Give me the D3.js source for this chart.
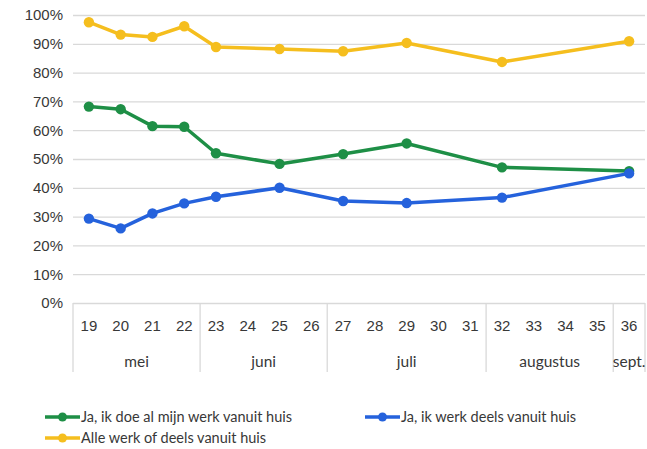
<!DOCTYPE html>
<html>
<head>
<meta charset="utf-8">
<script src="https://cdn.jsdelivr.net/npm/d3@7"></script>
<style>
  body { margin: 0; background: #fff; }
  svg { font-family: Lato, "Liberation Sans", sans-serif; }
</style>
</head>
<body>
<svg id="chart"></svg>
<script>
// week numbers on the axis
const weeks = ['19','20','21','22','23','24','25','26','27','28','29','30','31','32','33','34','35','36']
// weeks with a measurement
const surveyWeeks = ['19','20','21','22','23','25','27','29','32','36']
const allFromHome = [68.2, 67.3, 61.4, 61.2, 52.0, 48.3, 51.7, 55.4, 47.1, 45.8]
const partFromHome = [29.3, 25.9, 31.1, 34.6, 36.9, 40.0, 35.4, 34.7, 36.6, 45.0]
const allOrPart = [97.5, 93.2, 92.4, 96.1, 88.9, 88.2, 87.4, 90.3, 83.7, 90.9]
const months = ['mei', 'juni', 'juli', 'augustus', 'sept.']
const monthFirst = ['19', '23', '27', '32', '36']
const monthLast = ['22', '26', '31', '35', '36']
const yTicks = [0, 10, 20, 30, 40, 50, 60, 70, 80, 90, 100]

const series = [
  { name: 'Ja, ik doe al mijn werk vanuit huis', values: allFromHome, color: '#1e8f46' },
  { name: 'Ja, ik werk deels vanuit huis', values: partFromHome, color: '#2562dc' },
  { name: 'Alle werk of deels vanuit huis', values: allOrPart, color: '#f5be1e' }
]

const width = 647
const height = 449
const plotLeft = 73, plotRight = 645, plotTop = 15, plotBottom = 303

const svg = d3.select('#chart')
  .attr('width', width)
  .attr('height', height)

const xScale = d3.scaleBand()
  .domain(weeks)
  .range([plotLeft, plotRight])

const yScale = d3.scaleLinear()
  .domain([0, 100])
  .range([plotBottom, plotTop])

// gridlines + y labels
const yAxis = svg.append('g')
  .attr('transform', `translate(${plotLeft},0)`)
  .call(d3.axisLeft(yScale).tickValues(yTicks).tickSize(-(plotRight - plotLeft)).tickFormat(d => d + '%'))
yAxis.select('.domain').remove()
yAxis.selectAll('.tick line').attr('stroke', '#d9d9d9').attr('stroke-width', 1.3)
yAxis.selectAll('.tick text')
  .attr('x', -10)
  .attr('fill', '#383838')
  .style('font-size', '15px')

// week labels
const xAxis = svg.append('g')
  .attr('transform', `translate(0,${plotBottom})`)
  .call(d3.axisBottom(xScale).tickSize(0))
xAxis.select('.domain').remove()
xAxis.selectAll('.tick text')
  .attr('y', 17)
  .attr('fill', '#383838')
  .style('font-size', '15px')

// month separators and labels
const bw = xScale.bandwidth()
const sepX = [xScale(monthFirst[0])].concat(monthLast.map(w => xScale(w) + bw))
svg.append('g').selectAll('line')
  .data(sepX)
  .join('line')
  .attr('x1', d => d).attr('x2', d => d)
  .attr('y1', plotBottom).attr('y2', 372)
  .attr('stroke', '#d9d9d9')
  .attr('stroke-width', 1.3)

svg.append('g').selectAll('text')
  .data(months)
  .join('text')
  .attr('x', (d, i) => (xScale(monthFirst[i]) + xScale(monthLast[i]) + bw) / 2)
  .attr('y', 362)
  .attr('dy', '0.35em')
  .attr('text-anchor', 'middle')
  .attr('fill', '#383838')
  .style('font-size', '15.5px')
  .text(d => d)

// lines
const lineGen = d3.line()
  .x((d, i) => xScale(surveyWeeks[i]) + bw / 2)
  .y(d => yScale(d))

const order = [2, 0, 1]
order.forEach(k => {
  const s = series[k]
  const g = svg.append('g')
  g.append('path')
    .datum(s.values)
    .attr('d', lineGen)
    .attr('fill', 'none')
    .attr('stroke', s.color)
    .attr('stroke-width', 3.5)
    .attr('stroke-linejoin', 'round')
  g.selectAll('circle')
    .data(s.values)
    .join('circle')
    .attr('cx', (d, i) => xScale(surveyWeeks[i]) + bw / 2)
    .attr('cy', d => yScale(d))
    .attr('r', 5.2)
    .attr('fill', s.color)
})

// legend
const legendPos = [[45, 417], [365, 417], [45, 438]]
const legend = svg.append('g').selectAll('g')
  .data(series)
  .join('g')
  .attr('transform', (d, i) => `translate(${legendPos[i][0]},${legendPos[i][1]})`)
legend.append('line')
  .attr('x1', 0).attr('x2', 35)
  .attr('stroke', d => d.color)
  .attr('stroke-width', 3.5)
legend.append('circle')
  .attr('cx', 17.5)
  .attr('r', 4.5)
  .attr('fill', d => d.color)
legend.append('text')
  .attr('x', 36)
  .attr('dy', '0.35em')
  .attr('fill', '#383838')
  .style('font-size', '14.5px')
  .text(d => d.name)
</script>
</body>
</html>
